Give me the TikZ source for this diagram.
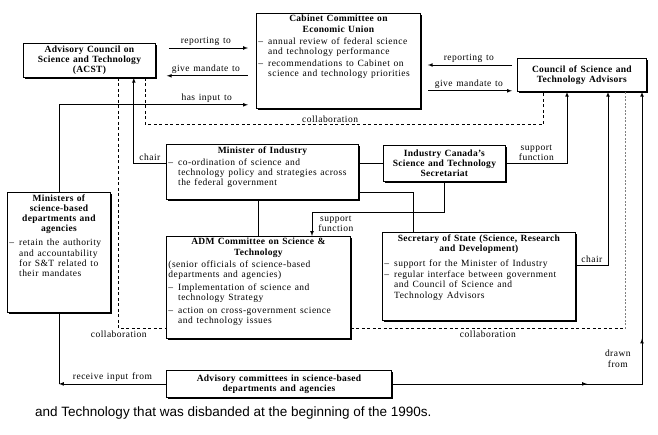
\documentclass[tikz,border=0pt]{standalone}
\usepackage{fontspec}
\setmainfont{Liberation Serif}[LetterSpace=5, WordSpace=1.3, BoldFeatures={LetterSpace=3, WordSpace=1.3}]
\newfontfamily\capfont{Liberation Sans}
\usetikzlibrary{shadows, decorations.markings}

\newcommand{\boxfont}{\fontsize{9.5}{10.2}\selectfont}
\newcommand{\boxc}[3]{\parbox[c][#2][c]{#1}{\centering #3}}
\newcommand{\boxt}[3]{\parbox[c][#2][t]{#1}{#3}}
\newcommand{\itm}[1]{\begin{tabular}[t]{@{}l@{\hspace{5pt}}l@{}}--&\begin{tabular}[t]{@{}l@{}}#1\end{tabular}\end{tabular}}

\tikzset{
  box/.style={draw, line width=0.8pt, fill=white, inner sep=2pt, anchor=north west, font=\boxfont,
    drop shadow={shadow xshift=1.8pt, shadow yshift=-1.8pt, fill=black, opacity=1}},
  link/.style={line width=0.7pt},
  collab/.style={line width=0.7pt, dash pattern=on 3pt off 2.5pt},
  lbl/.style={font=\boxfont, inner sep=2pt},
}

\begin{document}
\begin{tikzpicture}[x=1pt, y=-1pt]
\useasboundingbox (0,0) rectangle (658,434);

% Boxes
\node[box] (acst) at (23,43) {\boxc{128pt}{30pt}{\bfseries Advisory Council on\\ Science and Technology\\ (ACST)}};
\node[box] (cabinet) at (256,13) {\boxt{160pt}{91pt}{{\centering\bfseries Cabinet Committee on\\ Economic Union\par}\vspace{2pt}
  \itm{annual review of federal science\\ and technology performance}\par\vspace{1pt}
  \itm{recommendations to Cabinet on\\ science and technology priorities}}};
\node[box] (council) at (517,58) {\boxc{125pt}{29pt}{\bfseries Council of Science and\\ Technology Advisors}};
\node[box] (minind) at (166,144) {\boxt{188pt}{51pt}{{\centering\bfseries Minister of Industry\par}\vspace{2pt}
  \itm{co-ordination of science and\\ technology policy and strategies across\\ the federal government}}};
\node[box] (secretariat) at (383,145) {\boxc{118pt}{32pt}{\bfseries Industry Canada's\\ Science and Technology\\ Secretariat}};
\node[box] (ministers) at (7,192) {\boxt{99pt}{116pt}{{\centering\bfseries Ministers of\\ science-based\\ departments and\\ agencies\par}\vspace{4pt}
  \itm{retain the authority\\ and accountability\\ for S\&T related to\\ their mandates}}};
\node[box] (adm) at (166,236) {\boxt{180pt}{98pt}{{\centering\bfseries ADM Committee on Science \&\\ Technology\par}\vspace{2pt}
  (senior officials of science-based\\ departments and agencies)\par\vspace{3pt}
  \itm{Implementation of science and\\ technology Strategy}\par\vspace{1pt}
  \itm{action on cross-government science\\ and technology issues}}};
\node[box] (secstate) at (382,232) {\boxt{189pt}{84pt}{{\centering\bfseries Secretary of State (Science, Research\\ and Development)\par}\vspace{5pt}
  \itm{support for the Minister of Industry}\par\vspace{1pt}
  \itm{regular interface between government\\ and Council of Science and\\ Technology Advisors}}};
\node[box] (advcom) at (166,370) {\boxc{221pt}{23pt}{\bfseries Advisory committees in science-based\\ departments and agencies}};

% ACST and Cabinet Committee
\coordinate (acstR1) at ([yshift=-5pt]acst.north east);
\coordinate (acstR2) at ([yshift=2pt]acst.south east);
\draw[link,-latex,shorten <=13pt,shorten >=8pt] (acstR1) -- (acstR1 -| cabinet.west) node[lbl,midway,above]{reporting to};
\draw[link,latex-,shorten <=11pt,shorten >=8pt] (acstR2) -- (acstR2 -| cabinet.west) node[lbl,midway,above]{give mandate to};
\coordinate (cabL) at ([yshift=4pt]cabinet.south west);
\draw[link,-latex,shorten >=8pt] (ministers.north) |- node[lbl,pos=0.875,above]{has input to} (cabL);

% Council and Cabinet Committee
\coordinate (cslR1) at ([yshift=-7pt]council.north west);
\coordinate (cslR2) at ([yshift=1pt]council.south west);
\draw[link,-latex,shorten <=5pt,shorten >=7pt] (cslR1) -- (cslR1 -| cabinet.east) node[lbl,midway,above]{reporting to};
\draw[link,latex-,shorten <=5pt,shorten >=7pt] (cslR2) -- (cslR2 -| cabinet.east) node[lbl,midway,above]{give mandate to};

% Into the Council from below
\coordinate (cslA) at ([xshift=50pt]council.south west);
\coordinate (cslB) at ([xshift=91pt]council.south west);
\coordinate (cslC) at ([xshift=108pt]council.south west);
\coordinate (cslD) at ([xshift=125pt]council.south west);
\draw[link,-latex] (secretariat.east) -| node[lbl,pos=0.25,above,align=center]{support\\ function} (cslA);
\draw[link,-latex] ([yshift=11pt]secstate.east) -| node[lbl,pos=0.25,above]{chair} (cslB);
\draw[link,-latex,postaction={decorate},decoration={markings,
    mark=at position 0.36 with {\arrow{latex}}, mark=at position 0.545 with {\arrow{latex}}}]
  (advcom.east) -| node[lbl,pos=0.543,left,align=center,xshift=-9pt]{drawn\\ from} (cslD);

% Advisory committees to Ministers
\coordinate (recv) at (ministers.south |- advcom.west);
\draw[link] (ministers.south) -- (recv);
\draw[link,-latex] (advcom.west) -- (recv) node[lbl,midway,above]{receive input from};

% Minister of Industry
\draw[link,-latex] ([yshift=-19pt]minind.north west) -| node[lbl,pos=0.25,above]{chair} ([xshift=-22pt]acst.south east);
\draw[link] (secretariat.west) -- (secretariat.west -| minind.east);
\draw[link] (adm.north) -- (adm.north |- minind.south);
\draw[link] ([yshift=7pt]minind.south east) -| ([xshift=31pt]secstate.north west);
\coordinate (admIn) at ([xshift=146pt]adm.north west);
\draw[link,-latex] (secretariat.south) |- ([yshift=24pt]admIn) -- node[lbl,right,align=center,xshift=4pt]{support\\ function} (admIn);

% Collaboration
\draw[collab] ([xshift=-37pt]acst.south east) |- node[lbl,pos=0.5,below]{collaboration} ([yshift=10pt]adm.south west);
\draw[collab] ([xshift=-10pt]acst.south east) -- ++(0,47) -| node[lbl,pos=0.232,above]{collaboration} ([xshift=26pt]council.south west);
\coordinate (admC) at ([yshift=10pt]adm.south east);
\draw[collab] (admC) -- (admC -| cslC) node[lbl,midway,below]{collaboration};
\draw[collab,gray,dash pattern=on 2pt off 1.5pt] (admC -| cslC) -- (cslC);

% Caption
\node[font=\capfont\fontsize{13.5}{16}\selectfont, anchor=base west, inner sep=0pt] (caption) at (35,416)
  {and Technology that was disbanded at the beginning of the 1990s.};

\end{tikzpicture}
\end{document}
